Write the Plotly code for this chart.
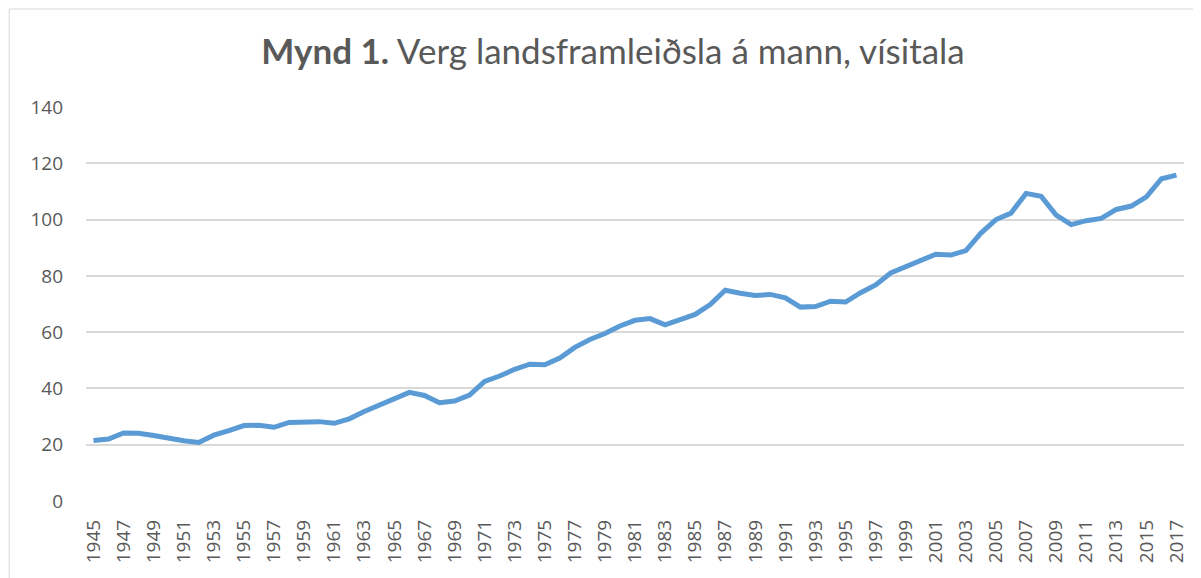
import plotly.graph_objects as go

years = list(range(1945, 2018))
values = [
    21.5, 22.0, 24.2, 24.1, 23.3, 22.3, 21.4, 20.8, 23.4, 25.0,   # 1945-1954
    26.8, 26.9, 26.2, 27.9, 28.0, 28.2, 27.6, 29.2, 31.8, 34.2,   # 1955-1964
    36.2, 38.6, 37.5, 34.9, 35.5, 37.6, 42.5, 44.4, 46.8, 48.6,   # 1965-1974
    48.4, 50.8, 54.6, 57.4, 59.5, 62.2, 64.2, 64.8, 62.6, 64.6,   # 1975-1984
    66.3, 69.8, 74.9, 73.8, 73.0, 73.4, 72.2, 68.9, 69.1, 71.0,   # 1985-1994
    70.7, 74.0, 76.8, 81.0, 83.1, 85.5, 87.7, 87.4, 89.0, 95.2,   # 1995-2004
    100.0, 102.3, 109.3, 108.3, 101.6, 98.2, 99.6, 100.4, 103.6, 104.8,  # 2005-2014
    108.1, 114.5, 115.8,   # 2015-2017
]
x_ticks = list(range(1945, 2018, 2))
y_ticks = [0, 20, 40, 60, 80, 100, 120, 140]
title_bold = "Mynd 1."
title_rest = " Verg landsframleiðsla á mann, vísitala"

fig = go.Figure()
fig.add_trace(go.Scatter(
    x=years, y=values, mode="lines",
    line=dict(color="#5B9BD5", width=5),
    hoverinfo="x+y", showlegend=False,
))

OFF = 8  # page body margin
W, H = 1201 - OFF, 578 - OFF
L, T = 86 - OFF, 107 - OFF
R = W - (1186 - OFF)
B = H - (501 - OFF)
pw, ph = W - L - R, H - T - B

tick_font = dict(family="Open Sans", size=19, color="#595959")

fig.update_layout(
    width=W, height=H,
    margin=dict(l=L, r=R, t=T, b=B),
    paper_bgcolor="white", plot_bgcolor="white",
    font=dict(family="Open Sans", color="#595959"),
    title=dict(
        text=f"<b>{title_bold}</b>{title_rest}",
        x=(613 - OFF) / W, xanchor="center", y=1 - (52 - OFF) / H, yanchor="middle",
        font=dict(family="Lato, Open Sans, sans-serif", size=35, color="#595959"),
    ),
    xaxis=dict(
        range=[1944.5, 2017.5], tickmode="array", tickvals=x_ticks,
        ticktext=[str(v) for v in x_ticks], tickangle=-90,
        showgrid=False, zeroline=False, showline=False, ticks="",
        ticklabelstandoff=14,
        tickfont=tick_font,
    ),
    yaxis=dict(
        range=[0, 140], tickmode="array", tickvals=y_ticks,
        showgrid=True, gridcolor="#D9D9D9", gridwidth=1.5,
        zeroline=False, showline=False, ticks="",
        ticklabelstandoff=22,
        tickfont=tick_font,
    ),
    shapes=[dict(
        type="rect", xref="paper", yref="paper",
        x0=(9 - 86) / pw, x1=1.2, y0=-0.5, y1=(501 - 9) / ph,
        line=dict(color="#D9D9D9", width=1), fillcolor="rgba(0,0,0,0)",
        layer="below",
    )],
)

fig.write_html("out.html")
